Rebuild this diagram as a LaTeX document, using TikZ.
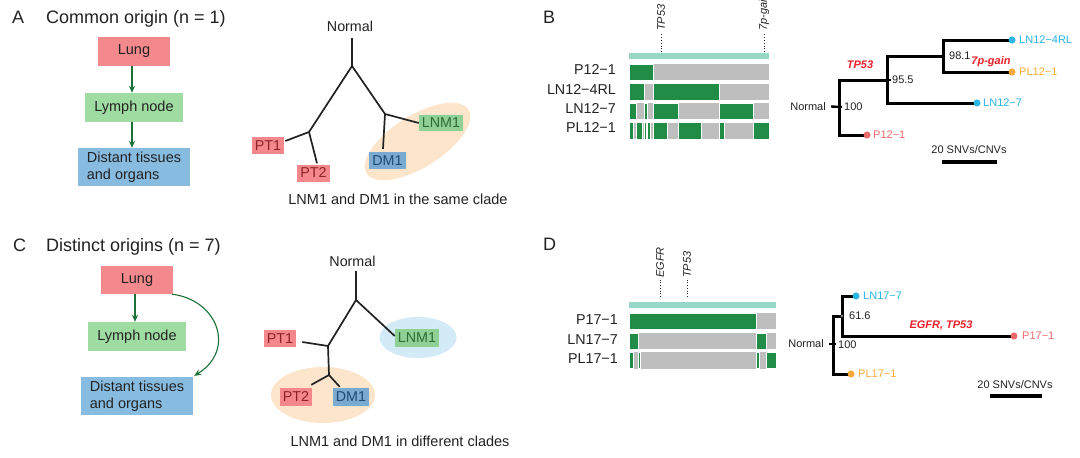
\documentclass[tikz,border=0pt]{standalone}
\usepackage{fontspec}
\setmainfont{Liberation Sans}
\usetikzlibrary{arrows.meta,calc}
\definecolor{txt}{HTML}{222222}
\definecolor{lungc}{HTML}{F4898D}
\definecolor{lymphc}{HTML}{9EDCA2}
\definecolor{distc}{HTML}{88BBE0}
\definecolor{arrowc}{HTML}{1B7038}
\definecolor{ptfill}{HTML}{F4878C}
\definecolor{pttext}{HTML}{8E2227}
\definecolor{lnfill}{HTML}{8FD195}
\definecolor{lntext}{HTML}{2E6B36}
\definecolor{dmfill}{HTML}{7BAAD0}
\definecolor{dmtext}{HTML}{1F4A72}
\definecolor{orell}{HTML}{FCE5CA}
\definecolor{blell}{HTML}{D3EAF7}
\definecolor{bargreen}{HTML}{218C46}
\definecolor{bargray}{HTML}{BEBEBE}
\definecolor{teal}{HTML}{97D7C7}
\definecolor{cyanc}{HTML}{2AB5E2}
\definecolor{orangec}{HTML}{F8AA3C}
\definecolor{salmonc}{HTML}{EE6B6B}
\definecolor{redc}{HTML}{E8202A}
\tikzset{
  every node/.style={inner sep=0pt, text=txt},
  paneltitle/.style={anchor=base west, font=\fontsize{18}{21}\selectfont},
  organbox/.style={fill=#1, font=\fontsize{14.5}{16.7}\selectfont, minimum height=29pt},
  flowarrow/.style={draw=arrowc, line width=1.1pt, -{Stealth[length=7pt,width=6pt]}},
  treeline/.style={draw=txt, line width=1.7pt},
  tlabel/.style={fill=#1, font=\fontsize{14.3}{16}\selectfont, minimum height=17pt, inner xsep=3pt},
  caption/.style={font=\fontsize{14.5}{17}\selectfont},
  rowlabel/.style={anchor=base east, font=\fontsize{14.3}{16}\selectfont},
  marker/.style={rotate=90, anchor=west, font=\fontsize{11}{13}\selectfont\itshape, text=txt},
  markline/.style={draw=txt, line width=0.8pt, dotted},
  phylo/.style={draw=black, line width=3pt},
  tip/.style={circle, fill=#1, minimum size=6.8pt},
  tiplabel/.style={anchor=west, font=\fontsize{11}{13}\selectfont, text=#1},
  smalltxt/.style={font=\fontsize{11}{13}\selectfont},
  redlab/.style={font=\fontsize{11}{13}\selectfont\bfseries\itshape, text=redc},
}
\begin{document}
\begin{tikzpicture}[x=1pt,y=-1pt]
\useasboundingbox[fill=white] (0,0) rectangle (1080,458);

% ================= Panel A =================
\node[paneltitle] (tA) at (12,23.3) {A};
\node[paneltitle] (tAt) at (46,23.3) {Common origin (n = 1)};
\node[organbox=lungc, minimum width=72pt] (Alung) at (134,51.5) {Lung};
\node[organbox=lymphc, minimum width=98pt] (Alymph) at (134,107.5) {Lymph node};
\node[organbox=distc, minimum width=112pt, minimum height=38pt, align=left, inner xsep=8pt] (Adist) at (134,167) {Distant tissues\\and organs};
\draw[flowarrow] ([xshift=-2pt]Alung.south) -- ([xshift=-2pt]Alymph.north);
\draw[flowarrow] ([xshift=-2pt]Alymph.south) -- ([xshift=-2pt]Adist.north);

% tree A
\fill[orell, rotate around={32:(417.5,141.5)}] (417.5,141.5) ellipse [x radius=60pt, y radius=26pt];
\node[smalltxt, font=\fontsize{14.3}{16}\selectfont] (Anorm) at (350,26) {Normal};
\coordinate (Atop) at (352,38);
\coordinate (Aroot) at (352,66);
\coordinate (AL) at (309,132);
\coordinate (AR) at (385,114);
\node[tlabel=ptfill, text=pttext] (APT1) at (268,145.5) {PT1};
\node[tlabel=ptfill, text=pttext] (APT2) at (313.5,173) {PT2};
\node[tlabel=dmfill, text=dmtext] (ADM1) at (387.5,160.5) {DM1};
\node[tlabel=lnfill, text=lntext, minimum height=16pt] (ALNM1) at (441,123) {LNM1};
\draw[treeline] (Atop) -- (Aroot);
\draw[treeline] (Aroot) -- (AL);
\draw[treeline] (Aroot) -- (AR);
\draw[treeline] (AR) -- (ALNM1.west);
\draw[treeline] (AR) -- ([xshift=-4.5pt,yshift=3pt]ADM1.north);
\draw[treeline] (AL) -- ([xshift=1pt,yshift=4.5pt]APT1.east);
\draw[treeline] (AL) -- ([xshift=3.5pt,yshift=1pt]APT2.north);
\node[caption] (Acap) at (398,199) {LNM1 and DM1 in the same clade};

% ================= Panel C =================
\node[paneltitle] (tC) at (13,251.7) {C};
\node[paneltitle] (tCt) at (46,251.7) {Distinct origins (n = 7)};
\node[organbox=lungc, minimum width=72pt, minimum height=28pt] (Clung) at (137,280) {Lung};
\node[organbox=lymphc, minimum width=98pt] (Clymph) at (137,336.5) {Lymph node};
\node[organbox=distc, minimum width=112pt, minimum height=38pt, align=left, inner xsep=8pt] (Cdist) at (137,396) {Distant tissues\\and organs};
\draw[flowarrow] ([xshift=-2pt]Clung.south) -- ([xshift=-2pt]Clymph.north);
\draw[flowarrow] ([xshift=-1pt]Clung.south east) .. controls (218,300) and (236,350) .. ([xshift=1pt,yshift=1pt]Cdist.north east);

% tree C
\fill[blell] (418,337.5) ellipse [x radius=38.5pt, y radius=20.5pt];
\fill[orell] (323,395) ellipse [x radius=52pt, y radius=28pt];
\node[smalltxt, font=\fontsize{14.3}{16}\selectfont] (Cnorm) at (352.5,261) {Normal};
\coordinate (Ctop) at (356,271);
\coordinate (Croot) at (356,300);
\coordinate (CL) at (328,346);
\coordinate (CM) at (329,375);
\node[tlabel=ptfill, text=pttext] (CPT1) at (280,338.5) {PT1};
\node[tlabel=lnfill, text=lntext, minimum height=18pt] (CLNM1) at (417,338) {LNM1};
\node[tlabel=ptfill, text=pttext, minimum height=18pt] (CPT2) at (296,397) {PT2};
\node[tlabel=dmfill, text=dmtext, minimum height=18pt] (CDM1) at (351,397) {DM1};
\draw[treeline] (Ctop) -- (Croot);
\draw[treeline] (Croot) -- ([yshift=2pt]CLNM1.west);
\draw[treeline] (Croot) -- (CL);
\draw[treeline] (CL) -- ([xshift=6pt,yshift=-3.5pt]CPT1.east);
\draw[treeline] (CL) -- (CM);
\draw[treeline] (CM) -- ([xshift=-1pt,yshift=3pt]CPT2.north east);
\draw[treeline] (CM) -- ([xshift=7pt,yshift=1pt]CDM1.north west);
\node[caption] (Ccap) at (400,441) {LNM1 and DM1 in different clades};

% ================= Panel B =================
\node[paneltitle] (tB) at (543,23) {B};
\fill[teal] (629,53) rectangle (769,59);
\coordinate (mTPa) at (661,52);
\coordinate (mTPb) at (661,33);
\draw[markline] (mTPa) -- (mTPb);
\node[marker] (BTP53) at (661,31) {TP53};
\coordinate (m7pa) at (764,52);
\coordinate (m7pb) at (764,33);
\draw[markline] (m7pa) -- (m7pb);
\node[marker] (B7p) at (764,31) {7p-gain};
% rows
\node[rowlabel] (BP121) at (616,74) {P12\textminus1};
\node[rowlabel] (BLN124) at (616,94) {LN12\textminus4RL};
\node[rowlabel] (BLN127) at (616,113.3) {LN12\textminus7};
\node[rowlabel] (BPL121) at (616,132.7) {PL12\textminus1};
\foreach \yt in {64,83.5,103,122.5}{\fill[bargray] (629,\yt) rectangle (769,\yt+16.3);}
\tikzset{gseg/.style={fill=bargreen, draw=white, line width=0.4pt}}
\foreach \a/\b in {629/653}{\path[gseg] (\a,64) rectangle (\b,80.3);}
\foreach \a/\b in {629/644,653/719}{\path[gseg] (\a,83.5) rectangle (\b,99.8);}
\foreach \a/\b in {629/636,644/647,653/678,719/753}{\path[gseg] (\a,103) rectangle (\b,119.3);}
\foreach \a/\b in {629/633,636/642,644/646,647/650,653/667,678/701,719/724,753/769}{\path[gseg] (\a,122.5) rectangle (\b,138.8);}

% tree B
\node[smalltxt, anchor=east] (Bnorm) at (826,106.5) {Normal};
\coordinate (Br) at (839,107);
\coordinate (Bn1) at (887,80);
\coordinate (Bn2) at (943,56);
\node[tip=cyanc] (BdA) at (1012,40) {};
\node[tip=orangec] (BdB) at (1012,72) {};
\node[tip=cyanc] (BdC) at (977,103) {};
\node[tip=salmonc] (BdD) at (867,135) {};
\draw[phylo] (BdA.center) -| (Bn2) |- (BdB.center);
\draw[phylo] (Bn2) -| (Bn1) |- (BdC.center);
\draw[phylo] (Bn1) -| (Br) |- (BdD.center);
\draw[draw=black, line width=2.4pt] ([xshift=5pt]Bnorm.east) -- ([xshift=3pt]Br);
\draw[draw=black, line width=1.6pt] (Bn1) -- ([xshift=3.5pt]Bn1);
\node[tip=cyanc] at (BdA) {};
\node[tip=orangec] at (BdB) {};
\node[tip=cyanc] at (BdC) {};
\node[tip=salmonc] at (BdD) {};
\node[tiplabel=cyanc] (BlA) at (1019,40) {LN12\textminus4RL};
\node[tiplabel=orangec] (BlB) at (1019,72) {PL12\textminus1};
\node[tiplabel=cyanc] (BlC) at (983,103) {LN12\textminus7};
\node[tiplabel=salmonc] (BlD) at (873,135) {P12\textminus1};
\node[smalltxt, anchor=west] (B100) at (844,106.5) {100};
\node[smalltxt, anchor=west] (B955) at (892,80) {95.5};
\node[smalltxt, anchor=west] (B981) at (949,56) {98.1};
\node[redlab] (BrTP) at (860,65) {TP53};
\node[redlab] (Br7p) at (991,61.5) {7p-gain};
\node[smalltxt] (Bscale) at (969,150) {20 SNVs/CNVs};
\coordinate (Bsa) at (942,162);
\coordinate (Bsb) at (997,162);
\draw[draw=black, line width=3.2pt] (Bsa) -- (Bsb);

% ================= Panel D =================
\node[paneltitle] (tD) at (543,250.7) {D};
\fill[teal] (629,302) rectangle (776,307.5);
\coordinate (mEGa) at (660,297);
\coordinate (mEGb) at (660,280);
\draw[markline] (mEGa) -- (mEGb);
\node[marker] (DEGFR) at (660,278) {EGFR};
\coordinate (mDTa) at (687,297);
\coordinate (mDTb) at (687,280);
\draw[markline] (mDTa) -- (mDTb);
\node[marker] (DTP53) at (687,278) {TP53};
\node[rowlabel] (DP171) at (618,324.7) {P17\textminus1};
\node[rowlabel] (DLN177) at (618,344.3) {LN17\textminus7};
\node[rowlabel] (DPL171) at (618,363.3) {PL17\textminus1};
\foreach \yt in {313,332.7,352.3}{\fill[bargray] (629,\yt) rectangle (776,\yt+16.2);}
\foreach \a/\b in {629/756}{\path[gseg] (\a,313) rectangle (\b,329.2);}
\foreach \a/\b in {629/638,756/766}{\path[gseg] (\a,332.7) rectangle (\b,348.9);}
\foreach \a/\b in {629/633,638/640,756/759,766/776}{\path[gseg] (\a,352.3) rectangle (\b,368.5);}

% tree D
\node[smalltxt, anchor=east] (Dnorm) at (824,344) {Normal};
\coordinate (Dr) at (833,344);
\coordinate (Dn1) at (842,316);
\node[tip=cyanc] (DdA) at (856,296) {};
\node[tip=salmonc] (DdB) at (1014,336) {};
\node[tip=orangec] (DdC) at (851,374) {};
\draw[phylo] (DdA.center) -| (Dn1) |- (DdB.center);
\draw[phylo] (Dn1) -| (Dr) |- (DdC.center);
\draw[draw=black, line width=2.4pt] ([xshift=5pt]Dnorm.east) -- ([xshift=3pt]Dr);
\node[circle, fill=white, draw=black, line width=0.6pt, minimum size=3.2pt] (Dn1c) at (Dn1) {};
\node[tip=cyanc] at (DdA) {};
\node[tip=salmonc] at (DdB) {};
\node[tip=orangec] at (DdC) {};
\node[tiplabel=cyanc] (DlA) at (863,296) {LN17\textminus7};
\node[tiplabel=salmonc] (DlB) at (1022,336) {P17\textminus1};
\node[tiplabel=orangec] (DlC) at (858,374) {PL17\textminus1};
\node[smalltxt, anchor=west] (D100) at (838,345) {100};
\node[smalltxt, anchor=west] (D616) at (849,316) {61.6};
\node[redlab] (DrEG) at (941,326) {EGFR, TP53};
\node[smalltxt] (Dscale) at (1015,385) {20 SNVs/CNVs};
\coordinate (Dsa) at (990,396);
\coordinate (Dsb) at (1042,396);
\draw[draw=black, line width=3.2pt] (Dsa) -- (Dsb);
\end{tikzpicture}
\end{document}
